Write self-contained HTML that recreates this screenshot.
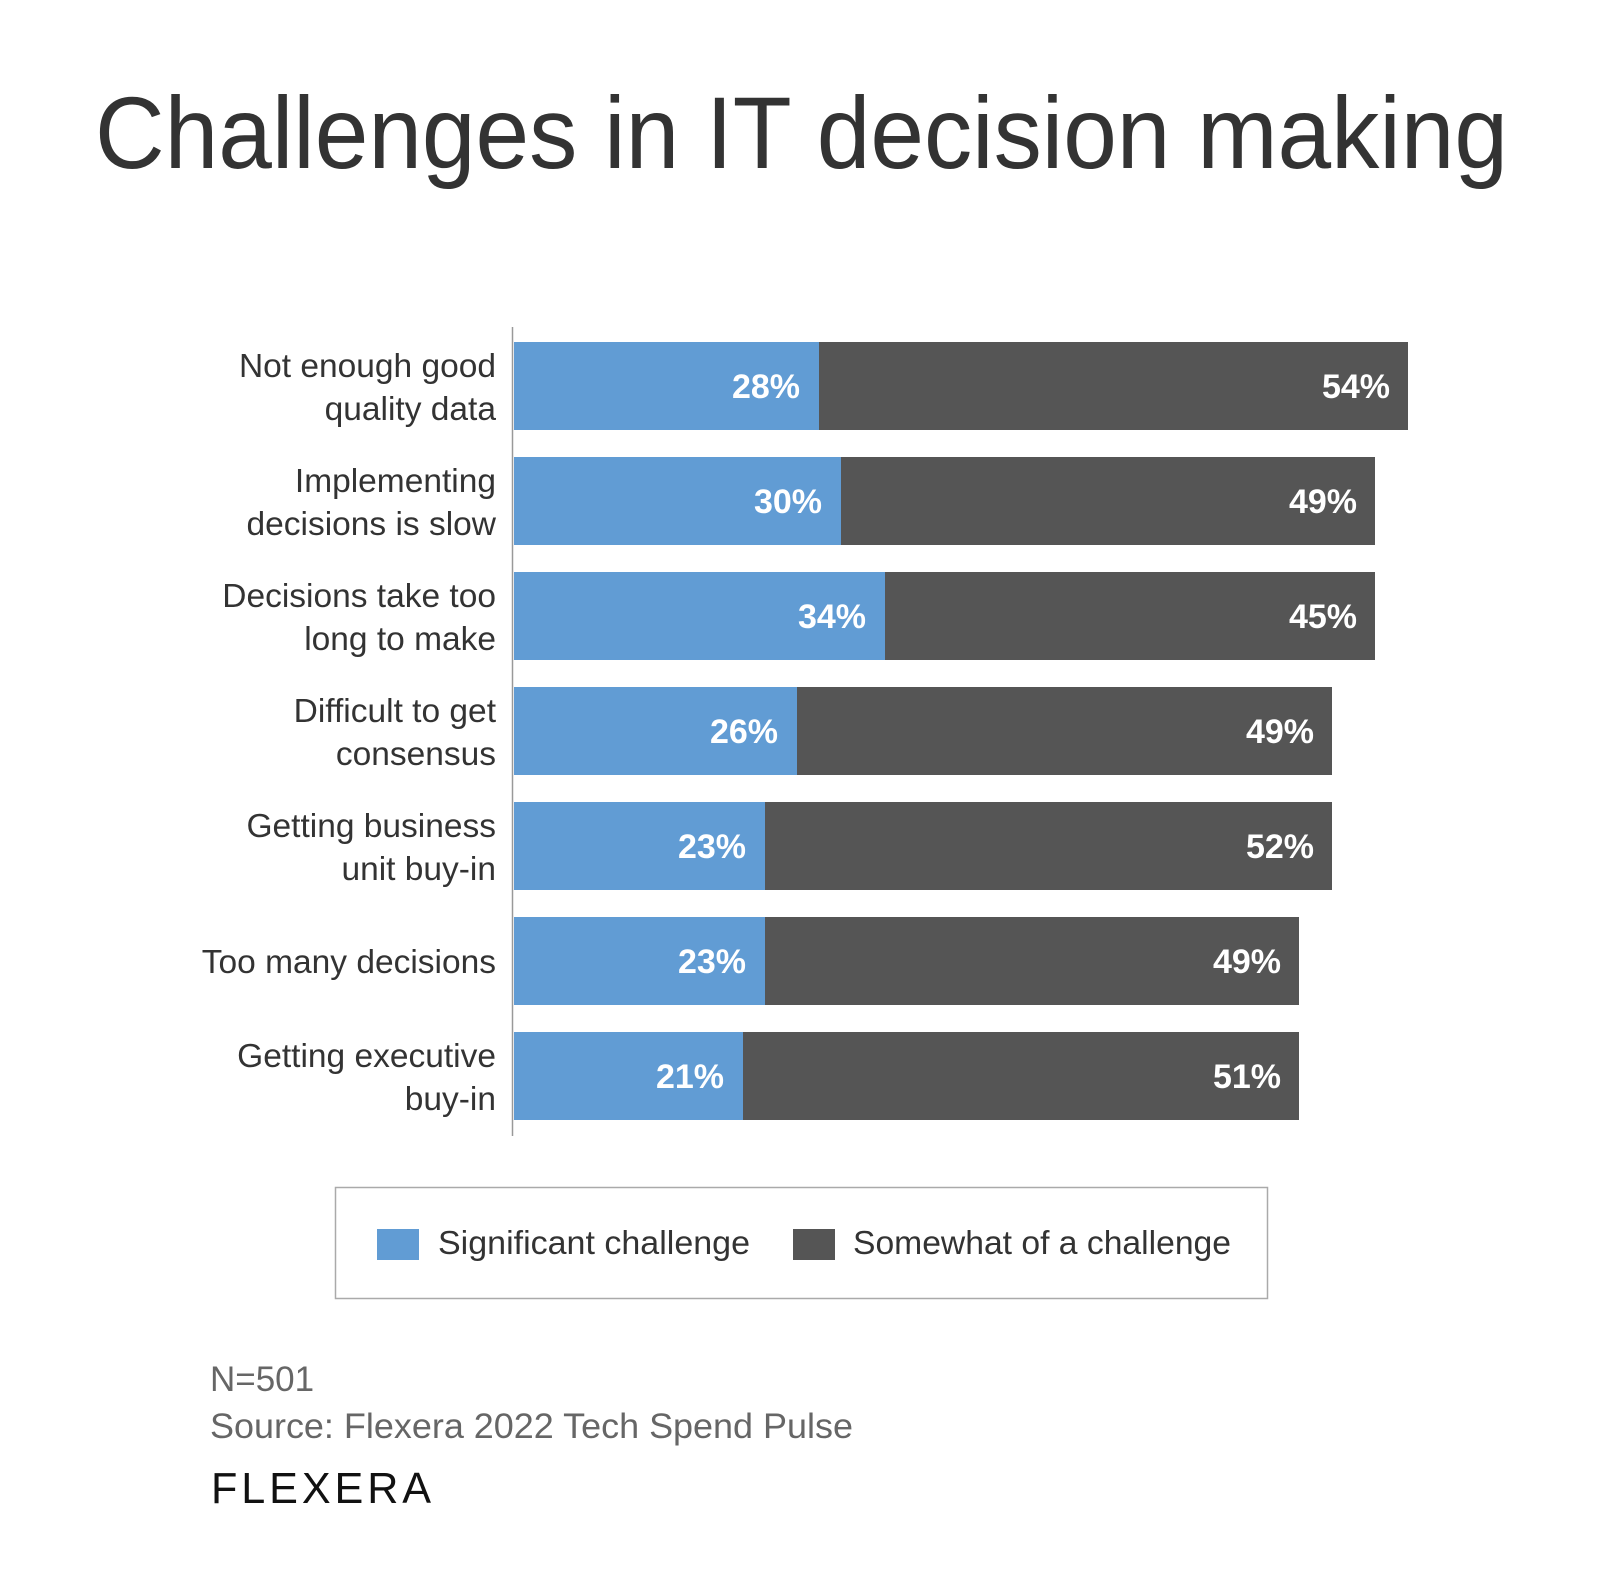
<!DOCTYPE html>
<html><head><meta charset="utf-8"><style>
html,body{margin:0;padding:0;background:#fff;}
svg{display:block;}
text{font-family:"Liberation Sans",sans-serif;}
</style></head><body>
<svg width="1604" height="1582" viewBox="0 0 1604 1582" xmlns="http://www.w3.org/2000/svg">
<text x="95" y="168" font-size="102" fill="#333" textLength="1413" lengthAdjust="spacingAndGlyphs">Challenges in IT decision making</text>
<line x1="512.5" y1="327" x2="512.5" y2="1136" stroke="#999" stroke-width="1.5"/>
<g font-size="34" font-weight="bold" fill="#fff" text-anchor="end">
<rect x="514" y="342" width="305" height="88" fill="#619cd4"/><rect x="819" y="342" width="589" height="88" fill="#555"/>
<text x="800" y="398">28%</text><text x="1390" y="398">54%</text>
<rect x="514" y="457" width="327" height="88" fill="#619cd4"/><rect x="841" y="457" width="534" height="88" fill="#555"/>
<text x="822" y="513">30%</text><text x="1357" y="513">49%</text>
<rect x="514" y="572" width="371" height="88" fill="#619cd4"/><rect x="885" y="572" width="490" height="88" fill="#555"/>
<text x="866" y="628">34%</text><text x="1357" y="628">45%</text>
<rect x="514" y="687" width="283" height="88" fill="#619cd4"/><rect x="797" y="687" width="535" height="88" fill="#555"/>
<text x="778" y="743">26%</text><text x="1314" y="743">49%</text>
<rect x="514" y="802" width="251" height="88" fill="#619cd4"/><rect x="765" y="802" width="567" height="88" fill="#555"/>
<text x="746" y="858">23%</text><text x="1314" y="858">52%</text>
<rect x="514" y="917" width="251" height="88" fill="#619cd4"/><rect x="765" y="917" width="534" height="88" fill="#555"/>
<text x="746" y="973">23%</text><text x="1281" y="973">49%</text>
<rect x="514" y="1032" width="229" height="88" fill="#619cd4"/><rect x="743" y="1032" width="556" height="88" fill="#555"/>
<text x="724" y="1088">21%</text><text x="1281" y="1088">51%</text>
</g>
<g font-size="33.5" fill="#333" text-anchor="end">
<text x="496" y="377">Not enough good</text><text x="496" y="420">quality data</text>
<text x="496" y="492">Implementing</text><text x="496" y="535">decisions is slow</text>
<text x="496" y="607">Decisions take too</text><text x="496" y="650">long to make</text>
<text x="496" y="722">Difficult to get</text><text x="496" y="765">consensus</text>
<text x="496" y="837">Getting business</text><text x="496" y="880">unit buy-in</text>
<text x="496" y="973">Too many decisions</text>
<text x="496" y="1067">Getting executive</text><text x="496" y="1110">buy-in</text>
</g>
<rect x="335.5" y="1187.5" width="932" height="111" fill="none" stroke="#aaa" stroke-width="1.5"/>
<rect x="377" y="1229" width="42" height="31" fill="#619cd4"/>
<text x="438" y="1254" font-size="33" fill="#333" textLength="312" lengthAdjust="spacingAndGlyphs">Significant challenge</text>
<rect x="793" y="1229" width="42" height="31" fill="#555"/>
<text x="853" y="1254" font-size="33" fill="#333" textLength="378" lengthAdjust="spacingAndGlyphs">Somewhat of a challenge</text>
<text x="210" y="1391" font-size="35" fill="#666">N=501</text>
<text x="210" y="1438" font-size="35" fill="#666" textLength="643" lengthAdjust="spacingAndGlyphs">Source: Flexera 2022 Tech Spend Pulse</text>
<text x="211" y="1503" font-size="44" fill="#111" letter-spacing="4" textLength="224" lengthAdjust="spacingAndGlyphs">FLEXERA</text>
</svg>
</body></html>
